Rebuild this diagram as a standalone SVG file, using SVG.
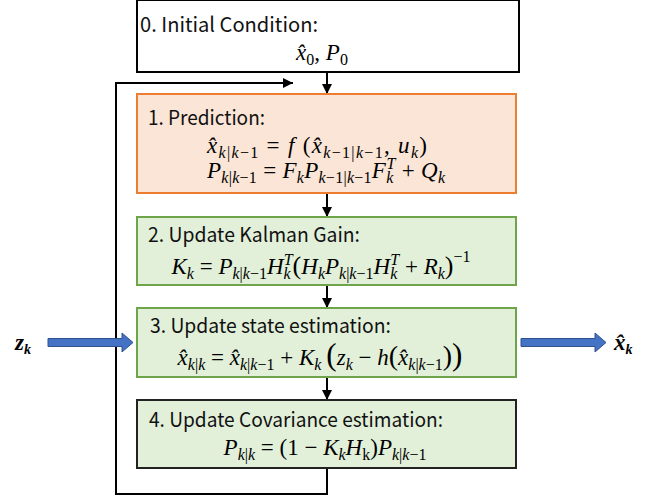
<svg xmlns="http://www.w3.org/2000/svg" width="653" height="498" viewBox="0 0 653 498">
<style>
.box0{fill:#fff;stroke:#000;stroke-width:2}
.box1{fill:#FBE5D6;stroke:#ED7D31;stroke-width:2}
.boxg{fill:#E2F0D9;stroke:#6FA54A;stroke-width:2}
.box4{fill:#E2F0D9;stroke:#222;stroke-width:2}
.t{font-family:"Noto Sans CJK KR","Noto Sans",sans-serif;font-size:20.5px;font-weight:400;fill:#111}
.m{font-family:"Liberation Serif",serif;font-size:23px;fill:#000}
.i{font-style:italic}
.s{font-size:16px}
.b{font-weight:bold}
.ln{fill:none;stroke:#000;stroke-width:2}
.blue{fill:#4472C4;stroke:#2F528F;stroke-width:1}
</style>
<defs>
<marker id="ah" viewBox="0 0 10 10" refX="10" refY="5" markerWidth="5" markerHeight="5" orient="auto" markerUnits="strokeWidth">
<path d="M0,0 L10,5 L0,10 z" fill="#000"/>
</marker>
</defs>

<g id="connectors">
<line class="ln" x1="327" y1="72" x2="327" y2="94" marker-end="url(#ah)"/>
<line class="ln" x1="327" y1="193" x2="327" y2="217" marker-end="url(#ah)"/>
<line class="ln" x1="327" y1="285" x2="327" y2="308" marker-end="url(#ah)"/>
<line class="ln" x1="327" y1="377" x2="327" y2="400" marker-end="url(#ah)"/>
<polyline class="ln" points="327,468 327,494 116,494 116,83 293,83" marker-end="url(#ah)"/>
<path class="blue" d="M48,338.5 H122 V333 L133,342.5 L122,352 V346.5 H48 Z"/>
<path class="blue" d="M521,338.5 H595 V333 L606,342.5 L595,352 V346.5 H521 Z"/>
</g>

<g id="input-z">
<text class="m b i" x="15" y="350" font-size="20">z<tspan font-size="14" dy="4">k</tspan></text>
</g>
<g id="output-x">
<text class="m b i" x="614" y="350" font-size="20">x̂<tspan font-size="14" dy="4">k</tspan></text>
</g>

<g id="node0">
<rect class="box0" x="137" y="0" width="382" height="72"/>
<text class="t" x="140" y="32" textLength="178" lengthAdjust="spacingAndGlyphs">0. Initial Condition:</text>
<text class="m" x="322" y="60" text-anchor="middle"><tspan class="i">x̂</tspan><tspan class="s" dy="5">0</tspan><tspan dy="-5">, </tspan><tspan class="i">P</tspan><tspan class="s" dy="5">0</tspan></text>
</g>

<g id="node1">
<rect class="box1" x="137" y="94" width="379" height="99"/>
<text class="t" x="148" y="125" textLength="117" lengthAdjust="spacingAndGlyphs">1. Prediction:</text>
<text class="m" x="317" y="153" text-anchor="middle" textLength="220" lengthAdjust="spacing"><tspan class="i">x̂</tspan><tspan class="s" dy="5"><tspan class="i">k</tspan>|<tspan class="i">k</tspan>−1</tspan><tspan dy="-5"> = </tspan><tspan class="i">f</tspan> (<tspan class="i">x̂</tspan><tspan class="s" dy="5"><tspan class="i">k</tspan>−1|<tspan class="i">k</tspan>−1</tspan><tspan dy="-5">, </tspan><tspan class="i">u</tspan><tspan class="s i" dy="5">k</tspan><tspan dy="-5">)</tspan></text>
<text class="m" x="326" y="178" text-anchor="middle" textLength="238" lengthAdjust="spacing"><tspan class="i">P</tspan><tspan class="s" dy="5"><tspan class="i">k</tspan>|<tspan class="i">k</tspan>−1</tspan><tspan dy="-5"> = </tspan><tspan class="i">F</tspan><tspan class="s i" dy="5">k</tspan><tspan class="i" dy="-5">P</tspan><tspan class="s" dy="5"><tspan class="i">k</tspan>−1|<tspan class="i">k</tspan>−1</tspan><tspan class="i" dy="-5">F</tspan><tspan class="s i" dy="5">k</tspan><tspan class="s i" dx="-7" dy="-14">T</tspan><tspan dy="9"> + </tspan><tspan class="i">Q</tspan><tspan class="s i" dy="5">k</tspan></text>
</g>

<g id="node2">
<rect class="boxg" x="137" y="217" width="379" height="68"/>
<text class="t" x="148" y="242" textLength="212" lengthAdjust="spacingAndGlyphs">2. Update Kalman Gain:</text>
<text class="m" x="321" y="274" text-anchor="middle"><tspan class="i">K</tspan><tspan class="s i" dy="5">k</tspan><tspan dy="-5"> = </tspan><tspan class="i">P</tspan><tspan class="s" dy="5"><tspan class="i">k</tspan>|<tspan class="i">k</tspan>−1</tspan><tspan class="i" dy="-5">H</tspan><tspan class="s i" dy="5">k</tspan><tspan class="s i" dx="-7" dy="-14">T</tspan><tspan dy="9" font-size="26">(</tspan><tspan class="i">H</tspan><tspan class="s i" dy="5">k</tspan><tspan class="i" dy="-5">P</tspan><tspan class="s" dy="5"><tspan class="i">k</tspan>|<tspan class="i">k</tspan>−1</tspan><tspan class="i" dy="-5">H</tspan><tspan class="s i" dy="5">k</tspan><tspan class="s i" dx="-7" dy="-14">T</tspan><tspan dy="9"> + </tspan><tspan class="i">R</tspan><tspan class="s i" dy="5">k</tspan><tspan dy="-5" font-size="26">)</tspan><tspan class="s" dy="-12">−1</tspan></text>
</g>

<g id="node3">
<rect class="boxg" x="137" y="308" width="379" height="69"/>
<text class="t" x="150" y="333" textLength="241" lengthAdjust="spacingAndGlyphs">3. Update state estimation:</text>
<text class="m" x="320" y="365" text-anchor="middle"><tspan class="i">x̂</tspan><tspan class="s" dy="5"><tspan class="i">k</tspan>|<tspan class="i">k</tspan></tspan><tspan dy="-5"> = </tspan><tspan class="i">x̂</tspan><tspan class="s" dy="5"><tspan class="i">k</tspan>|<tspan class="i">k</tspan>−1</tspan><tspan dy="-5"> + </tspan><tspan class="i">K</tspan><tspan class="s i" dy="5">k</tspan><tspan dy="-5" dx="5" font-size="31">(</tspan><tspan class="i">z</tspan><tspan class="s i" dy="5">k</tspan><tspan dy="-5"> − </tspan><tspan class="i">h</tspan><tspan font-size="28">(</tspan><tspan class="i">x̂</tspan><tspan class="s" dy="5"><tspan class="i">k</tspan>|<tspan class="i">k</tspan>−1</tspan><tspan dy="-5" font-size="28">)</tspan><tspan font-size="31">)</tspan></text>
</g>

<g id="node4">
<rect class="box4" x="137" y="400" width="379" height="68"/>
<text class="t" x="149" y="427" textLength="294" lengthAdjust="spacingAndGlyphs">4. Update Covariance estimation:</text>
<text class="m" x="325" y="455" text-anchor="middle"><tspan class="i">P</tspan><tspan class="s" dy="5"><tspan class="i">k</tspan>|<tspan class="i">k</tspan></tspan><tspan dy="-5"> = (1 − </tspan><tspan class="i">K</tspan><tspan class="s i" dy="5">k</tspan><tspan class="i" dy="-5">H</tspan><tspan class="s" dy="5">k</tspan><tspan dy="-5">)</tspan><tspan class="i">P</tspan><tspan class="s" dy="5"><tspan class="i">k</tspan>|<tspan class="i">k</tspan>−1</tspan></text>
</g>
</svg>
